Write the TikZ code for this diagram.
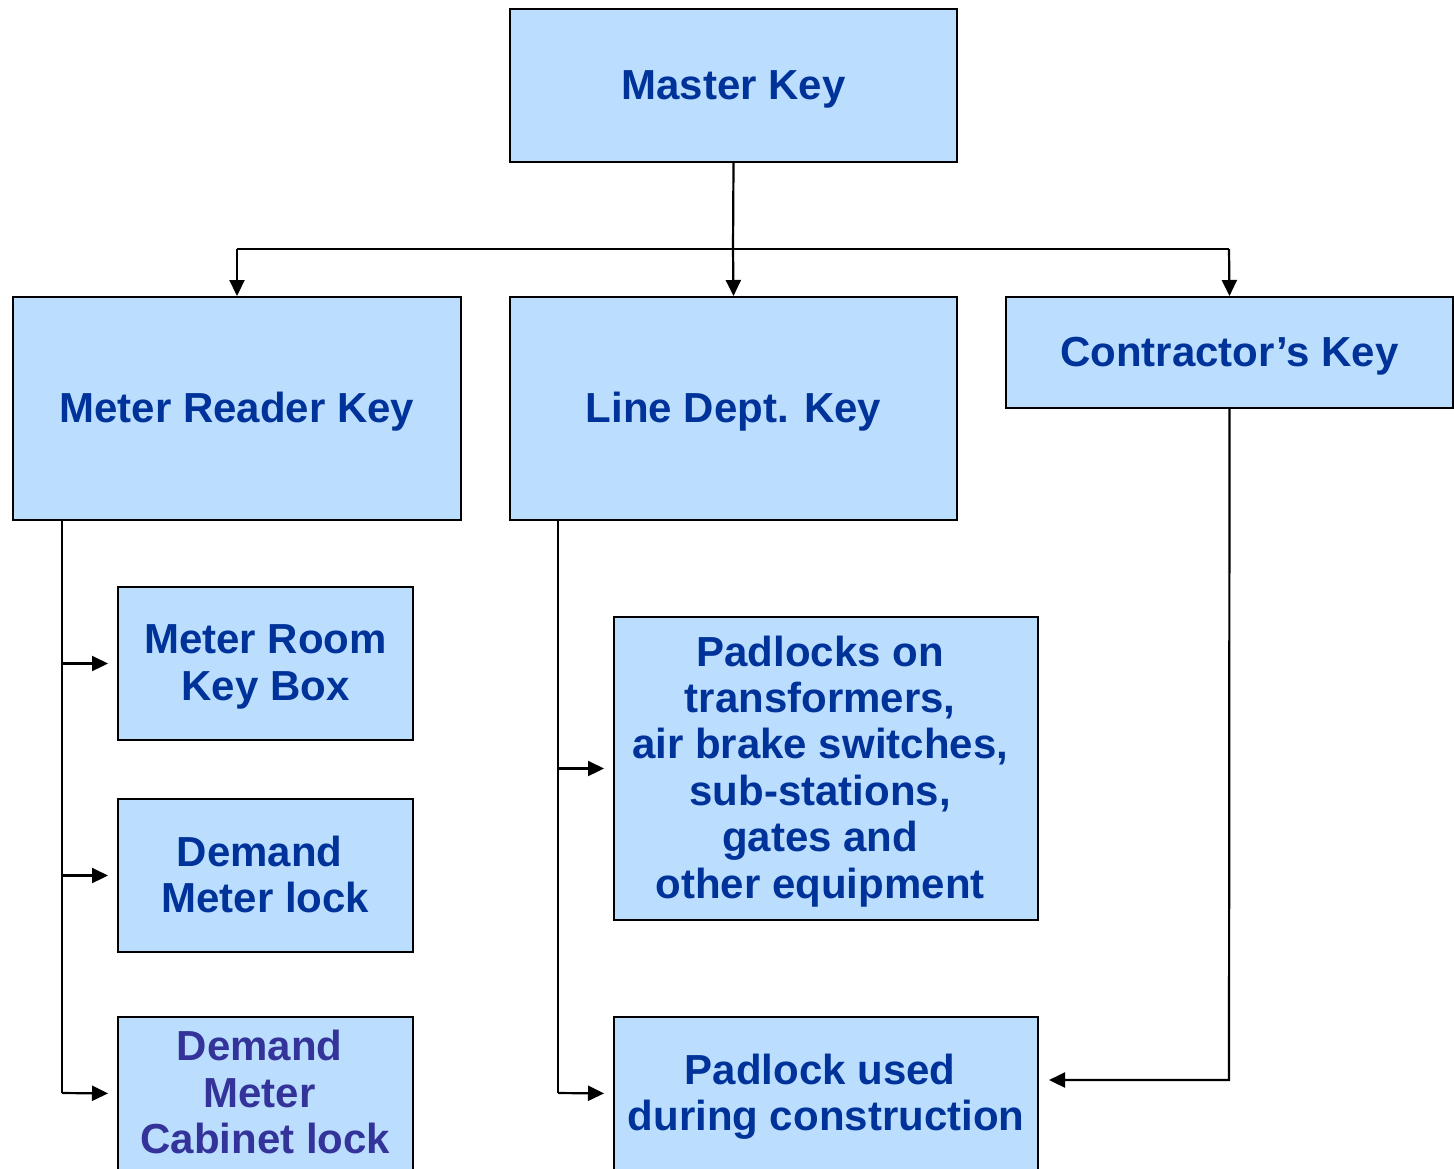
\documentclass[tikz,border=0pt]{standalone}
\usepackage{fontspec}
\setmainfont{Liberation Sans}
\usetikzlibrary{arrows.meta}
\definecolor{boxfill}{RGB}{187,222,255}
\definecolor{txtblue}{RGB}{0,51,153}
\definecolor{txtpurple}{RGB}{51,51,153}
\newcommand\keytxt[1]{\raisebox{-2.2pt}[\height][\depth]{\begin{tabular}{@{}c@{}}#1\end{tabular}}}
\newcommand\tsp{\hspace*{0.278em}}
\tikzset{
  keybox/.style={draw=black, line width=1pt, fill=boxfill, rectangle, inner sep=0pt,
    text=txtblue, font=\fontsize{21}{23.2}\selectfont\bfseries},
  conn/.style={line width=1.1pt, draw=black},
  arr/.style={conn, -{Triangle[length=8pt,width=7.5pt]}},
}
\begin{document}
\begin{tikzpicture}[x=0.5pt,y=-0.5pt]
\clip (0,0) rectangle (1454,1168);
\fill[white] (0,0) rectangle (1454,1168);
% nodes
\node[keybox, minimum width=223.5pt, minimum height=76.5pt] (master) at (733.5,85.5) {\keytxt{Master Key}};
\node[keybox, minimum width=224pt, minimum height=111.5pt] (mrk) at (237,408.5) {\keytxt{Meter Reader Key}};
\node[keybox, minimum width=223.5pt, minimum height=111.5pt] (line) at (733.5,408.5) {\keytxt{Line Dept. Key}};
\node[keybox, minimum width=223.5pt, minimum height=55.5pt] (contr) at (1229.5,352.5) {\keytxt{Contractor’s Key}};
\node[keybox, minimum width=147.5pt, minimum height=76.5pt] (room) at (265.5,663.5) {\keytxt{Meter Room\\Key Box}};
\node[keybox, minimum width=147.5pt, minimum height=76.5pt] (dml) at (265.5,875.5) {\keytxt{Demand\tsp\\Meter lock}};
\node[keybox, minimum width=147.5pt, minimum height=76.5pt, text=txtpurple] (cab) at (265.5,1093.5) {\keytxt{Demand\tsp\\Meter\tsp\\Cabinet lock}};
\node[keybox, minimum width=212pt, minimum height=151.5pt] (pad) at (826,768.5) {\keytxt{Padlocks on\tsp\\transformers,\tsp\\air brake switches,\tsp\\sub-stations,\tsp\\gates and\tsp\\other equipment\tsp}};
\node[keybox, minimum width=212pt, minimum height=76.5pt] (cons) at (826,1093.5) {\keytxt{Padlock used\tsp\\during construction}};
% coordinates
\coordinate (mjoin) at (733,249);
\coordinate (lft) at (237,249);
\coordinate (rgt) at (1229,249);
\coordinate (mtop) at (62,520);
\coordinate (mbot) at (62,1093);
\coordinate (ltop) at (558,520);
\coordinate (lbot) at (558,1093);
\coordinate (cbend) at (1229,1080);
% connectors
\draw[conn] (master.south) -- (mjoin);
\draw[conn] (lft) -- (rgt);
\draw[arr] (lft) -- (mrk.north);
\draw[arr] (mjoin) -- (line.north);
\draw[arr] (rgt) -- (contr.north);
\draw[conn] (mtop) -- (mbot);
\draw[arr, shorten >=4.5pt] (62,663.5) -- (room.west);
\draw[arr, shorten >=4.5pt] (62,875.5) -- (dml.west);
\draw[arr, shorten >=4.5pt] (mbot) -- (cab.west);
\draw[conn] (ltop) -- (lbot);
\draw[arr, shorten >=4.5pt] (558,768.5) -- (pad.west);
\draw[arr, shorten >=4.5pt] (lbot) -- (cons.west);
\draw[arr, shorten >=5pt] (contr.south) -- (cbend) -- (cons.east |- cbend);
\end{tikzpicture}
\end{document}
